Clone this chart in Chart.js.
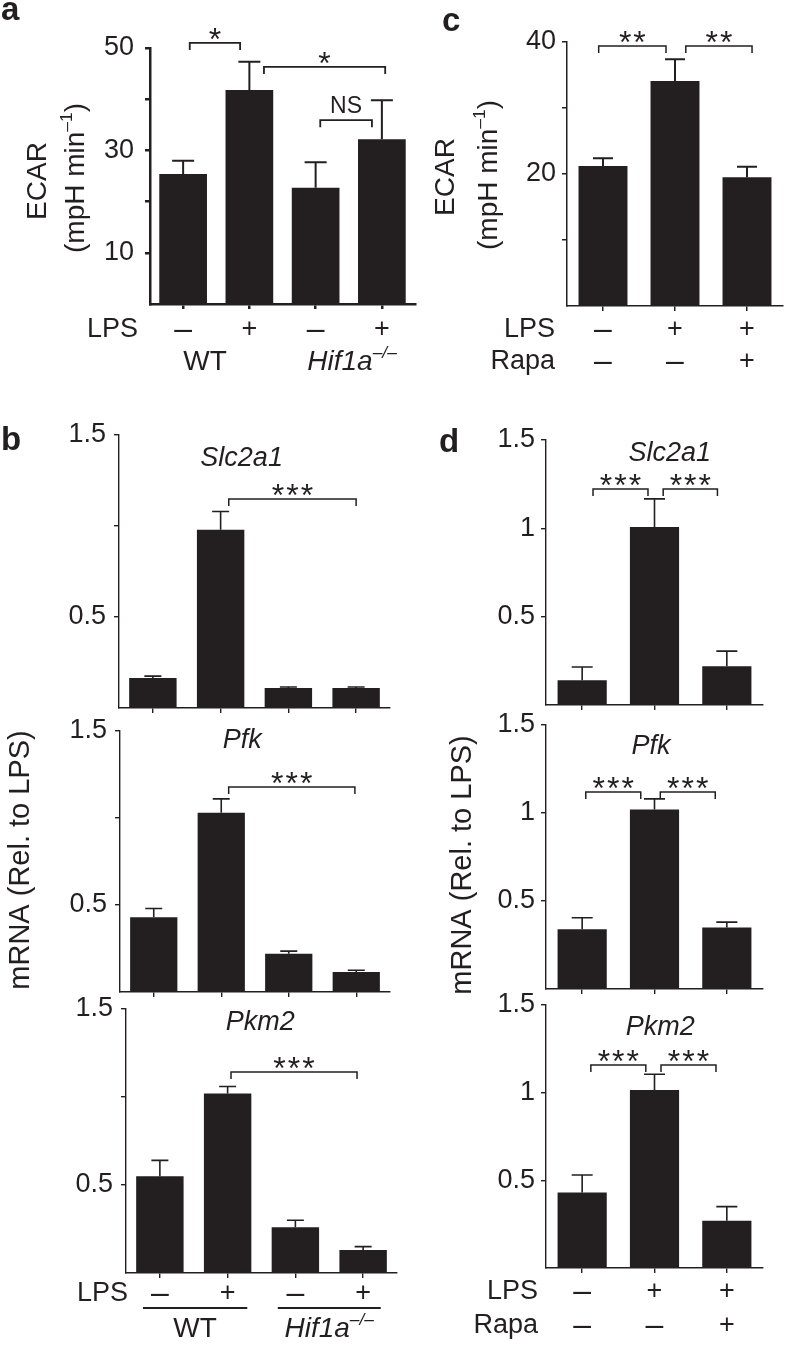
<!DOCTYPE html>
<html>
<head>
<meta charset="utf-8">
<script src="https://cdn.jsdelivr.net/npm/chart.js@4.4.0/dist/chart.umd.min.js"></script>
<style>
  html, body { margin: 0; padding: 0; background: #fff; }
  #wrap { position: relative; width: 786px; height: 1346px; overflow: hidden; background: #fff; }
  #wrap canvas { position: absolute; left: 0; top: 0; }
</style>
</head>
<body>
<div id="wrap"></div>
<script>
// --- data ---
// categories
const condAB = ['WT LPS-', 'WT LPS+', 'Hif1a LPS-', 'Hif1a LPS+'];
const condCD = ['ctrl', 'LPS', 'LPS+Rapa'];
const lpsAB = ['–', '+', '–', '+'];
const lpsCD = ['–', '+', '+'];
const rapaCD = ['–', '–', '+'];
const genes = ['Slc2a1', 'Pfk', 'Pkm2'];

// a: ECAR, WT vs Hif1a-/-
const ecarA = [25.4, 41.8, 22.7, 32.2];
const ecarAErr = [2.6, 5.5, 5.0, 7.6];
const ticksA = [10, 20, 30, 40, 50];
const tickLabelsA = ['10', '', '30', '', '50'];

// c: ECAR, LPS +/- rapamycin
const ecarC = [21.2, 34.1, 19.5];
const ecarCErr = [1.2, 3.3, 1.6];
const ticksC = [10, 20, 30, 40];
const tickLabelsC = ['', '20', '', '40'];

// b: mRNA relative to LPS
const slcB = [0.165, 0.98, 0.11, 0.11];
const slcBErr = [0.01, 0.10, 0.005, 0.005];
const pfkB = [0.43, 1.03, 0.22, 0.115];
const pfkBErr = [0.05, 0.08, 0.015, 0.01];
const pkmB = [0.55, 1.02, 0.26, 0.13];
const pkmBErr = [0.09, 0.04, 0.04, 0.02];
const ticksBD = [0.5, 1, 1.5];
const tickLabelsB = ['0.5', '', '1.5'];

// d: mRNA relative to LPS
const slcD = [0.14, 1.007, 0.22];
const slcDErr = [0.075, 0.16, 0.085];
const pfkD = [0.34, 1.02, 0.35];
const pfkDErr = [0.065, 0.06, 0.03];
const pkmD = [0.43, 1.015, 0.27];
const pkmDErr = [0.10, 0.09, 0.08];
const tickLabelsD = ['0.5', '1', '1.5'];

const INK = '#231f20';
const FONT = '"Liberation Sans", Arial, Helvetica, sans-serif';
const PAGE_W = 786, PAGE_H = 1346;
const wrap = document.getElementById('wrap');

function setFont(ctx, size, style) {
  ctx.font = (style || '') + ' ' + size + 'px ' + FONT;
}

// draw text made of plain parts and {sup: '...'} parts
function rich(ctx, parts, x, y, size, style, align) {
  const widths = parts.map(p => {
    const sup = typeof p !== 'string';
    setFont(ctx, sup ? size * 0.62 : size, style);
    return ctx.measureText(sup ? p.sup : p).width;
  });
  const total = widths.reduce((s, w) => s + w, 0);
  let cx = align === 'left' ? x : align === 'right' ? x - total : x - total / 2;
  ctx.textAlign = 'left';
  ctx.textBaseline = 'middle';
  parts.forEach((p, i) => {
    const sup = typeof p !== 'string';
    setFont(ctx, sup ? size * 0.62 : size, style);
    ctx.fillText(sup ? p.sup : p, cx, sup ? y - size * 0.32 : y);
    cx += widths[i];
  });
}

function vtext(ctx, parts, x, y, size) {
  ctx.save();
  ctx.translate(x, y);
  ctx.rotate(-Math.PI / 2);
  rich(ctx, parts, 0, 0, size, '', 'center');
  ctx.restore();
}

function letter(ctx, s, x, y) {
  setFont(ctx, 33, 'bold');
  ctx.textAlign = 'left';
  ctx.textBaseline = 'alphabetic';
  ctx.fillText(s, x, y);
}

// condition row: header on the left, a sign under each bar
function row(ctx, xs, head, signs, y, headRight) {
  rich(ctx, [head], headRight, y, 27, '', 'right');
  signs.forEach((s, i) => rich(ctx, [s], xs.getPixelForValue(i), y, s === '–' ? 32 : 27, '', 'center'));
}

function drawBrackets(chart, list, lw) {
  const ctx = chart.ctx, xs = chart.scales.x, ys = chart.scales.y;
  ctx.lineWidth = lw;
  list.forEach(([f, t, lvl, lab]) => {
    const x1 = xs.getPixelForValue(f), x2 = xs.getPixelForValue(t), yy = ys.getPixelForValue(lvl);
    ctx.beginPath();
    ctx.moveTo(x1, yy + 7); ctx.lineTo(x1, yy); ctx.lineTo(x2, yy); ctx.lineTo(x2, yy + 7);
    ctx.stroke();
    ctx.textAlign = 'center';
    ctx.textBaseline = 'alphabetic';
    if (lab === 'NS') {
      setFont(ctx, 23);
      ctx.fillText(lab, (x1 + x2) / 2, yy - 7);
    } else {
      setFont(ctx, 32);
      ctx.letterSpacing = '2px';
      ctx.fillText(lab, (x1 + x2) / 2 + 1, yy + 7);
      ctx.letterSpacing = '0px';
    }
  });
}

function annot(p) {
  return {
    id: 'annot',
    afterDatasetsDraw(chart) {
      const ctx = chart.ctx, ys = chart.scales.y;
      ctx.save();
      ctx.strokeStyle = INK;
      ctx.fillStyle = INK;
      // error bars (upper only)
      ctx.lineWidth = p.errW;
      chart.getDatasetMeta(0).data.forEach((bar, i) => {
        const top = ys.getPixelForValue(p.values[i] + p.errs[i]);
        ctx.beginPath();
        ctx.moveTo(bar.x, bar.y); ctx.lineTo(bar.x, top);
        ctx.moveTo(bar.x - p.cap, top); ctx.lineTo(bar.x + p.cap, top);
        ctx.stroke();
      });
      drawBrackets(chart, p.sig, p.sigW);
      if (p.draw) p.draw(chart, ctx, chart.scales.x);
      ctx.restore();
    }
  };
}

function build(p) {
  const cv = document.createElement('canvas');
  cv.width = PAGE_W; cv.height = PAGE_H;
  wrap.appendChild(cv);
  const YW = 80, XH = 8;
  new Chart(cv, {
    type: 'bar',
    data: {
      labels: p.labels,
      datasets: [{ data: p.values, backgroundColor: INK, borderWidth: 0, barPercentage: p.bar, categoryPercentage: 1 }]
    },
    options: {
      responsive: false,
      animation: false,
      devicePixelRatio: 1,
      layout: { padding: { left: p.box.l - YW, right: PAGE_W - p.box.r, top: p.box.t, bottom: PAGE_H - p.box.b - XH } },
      plugins: { legend: { display: false }, tooltip: { enabled: false } },
      scales: {
        x: {
          grid: { offset: false, drawOnChartArea: false, drawTicks: true, tickLength: 5, color: INK, lineWidth: p.axisW },
          border: { color: INK, width: p.axisW },
          ticks: { display: false },
          afterFit(s) { s.height = XH; }
        },
        y: {
          min: 0,
          max: p.max,
          afterBuildTicks(s) { s.ticks = p.ticks.map(v => ({ value: v })); },
          ticks: {
            callback: v => { const k = p.ticks.indexOf(v); return k < 0 ? '' : p.tickLabels[k]; },
            font: { family: FONT, size: 27 },
            color: INK,
            padding: p.tickPad
          },
          grid: { drawOnChartArea: false, drawTicks: true, tickLength: 5, color: INK, lineWidth: p.axisW },
          border: { color: INK, width: p.axisW },
          afterFit(s) { s.width = YW; }
        }
      }
    },
    plugins: [annot(p)]
  });
}

const ecarTitle = ['(mpH min', { sup: '–1' }, ')'];
const mrnaTitle = ['mRNA (Rel. to LPS)'];
const hifLabel = ['Hif1a', { sup: '–/–' }];

function geneTitle(ctx, xs, name, pos, y) {
  rich(ctx, [name], xs.getPixelForValue(pos), y, 27, 'italic', 'center');
}

const panels = [
  { // a
    labels: condAB, values: ecarA, errs: ecarAErr, max: 50, ticks: ticksA, tickLabels: tickLabelsA,
    box: { l: 150, r: 415, t: 48, b: 304 }, bar: 0.72, axisW: 2.5, errW: 2, cap: 11, tickPad: 11, sigW: 1.8,
    sig: [[0.10, 0.86, 51.0, '*'], [1.22, 3.05, 46.3, '*'], [2.07, 2.85, 35.9, 'NS']],
    draw(chart, ctx, xs) {
      letter(ctx, 'a', 1, 20);
      vtext(ctx, ['ECAR'], 38, 181, 28);
      vtext(ctx, ecarTitle, 76, 178, 28);
      row(ctx, xs, 'LPS', lpsAB, 330, 138);
      rich(ctx, ['WT'], xs.getPixelForValue(0.33), 362, 28, '', 'center');
      rich(ctx, hifLabel, xs.getPixelForValue(2.55), 362, 28, 'italic', 'center');
    }
  },
  { // c
    labels: condCD, values: ecarC, errs: ecarCErr, max: 40, ticks: ticksC, tickLabels: tickLabelsC,
    box: { l: 567, r: 783, t: 42, b: 306 }, bar: 0.68, axisW: 1.5, errW: 2, cap: 10, tickPad: 6, sigW: 1.5,
    sig: [[-0.06, 0.875, 39.4, '**'], [1.15, 2.07, 39.4, '**']],
    draw(chart, ctx, xs) {
      letter(ctx, 'c', 442, 31);
      vtext(ctx, ['ECAR'], 446, 177, 28);
      vtext(ctx, ecarTitle, 489, 175, 28);
      row(ctx, xs, 'LPS', lpsCD, 330, 555);
      row(ctx, xs, 'Rapa', rapaCD, 362, 555);
    }
  },
  { // b Slc2a1
    labels: condAB, values: slcB, errs: slcBErr, max: 1.5, ticks: ticksBD, tickLabels: tickLabelsB,
    box: { l: 119, r: 390, t: 435, b: 708 }, bar: 0.7, axisW: 1.4, errW: 1.6, cap: 8.5, tickPad: 8, sigW: 1.5,
    sig: [[1.12, 3.0, 1.148, '***']],
    draw(chart, ctx, xs) {
      letter(ctx, 'b', 1, 450);
      vtext(ctx, mrnaTitle, 21, 860, 29);
      geneTitle(ctx, xs, genes[0], 1.31, 458);
    }
  },
  { // b Pfk
    labels: condAB, values: pfkB, errs: pfkBErr, max: 1.5, ticks: ticksBD, tickLabels: tickLabelsB,
    box: { l: 120, r: 390, t: 731, b: 992 }, bar: 0.7, axisW: 1.4, errW: 1.6, cap: 8.5, tickPad: 8, sigW: 1.5,
    sig: [[1.11, 2.98, 1.178, '***']],
    draw(chart, ctx, xs) {
      geneTitle(ctx, xs, genes[1], 1.31, 740);
    }
  },
  { // b Pkm2
    labels: condAB, values: pkmB, errs: pkmBErr, max: 1.5, ticks: ticksBD, tickLabels: tickLabelsB,
    box: { l: 126, r: 397, t: 1009, b: 1273 }, bar: 0.7, axisW: 1.4, errW: 1.6, cap: 8.5, tickPad: 8, sigW: 1.5,
    sig: [[1.05, 2.91, 1.142, '***']],
    draw(chart, ctx, xs) {
      geneTitle(ctx, xs, genes[2], 1.48, 1022);
      row(ctx, xs, 'LPS', lpsAB, 1294, 128);
      ctx.lineWidth = 2;
      [[-0.25, 1.29], [1.74, 3.26]].forEach(([f, t]) => {
        ctx.beginPath();
        ctx.moveTo(xs.getPixelForValue(f), 1308);
        ctx.lineTo(xs.getPixelForValue(t), 1308);
        ctx.stroke();
      });
      rich(ctx, ['WT'], xs.getPixelForValue(0.52), 1329, 28, '', 'center');
      rich(ctx, hifLabel, xs.getPixelForValue(2.5), 1329, 28, 'italic', 'center');
    }
  },
  { // d Slc2a1
    labels: condCD, values: slcD, errs: slcDErr, max: 1.5, ticks: ticksBD, tickLabels: tickLabelsD,
    box: { l: 546, r: 763, t: 440, b: 705 }, bar: 0.68, axisW: 1.4, errW: 1.6, cap: 10.5, tickPad: 6, sigW: 1.5,
    sig: [[0.15, 0.91, 1.222, '***'], [1.12, 1.87, 1.222, '***']],
    draw(chart, ctx, xs) {
      letter(ctx, 'd', 439, 452);
      vtext(ctx, mrnaTitle, 463, 865, 29);
      geneTitle(ctx, xs, genes[0], 1.21, 453);
    }
  },
  { // d Pfk
    labels: condCD, values: pfkD, errs: pfkDErr, max: 1.5, ticks: ticksBD, tickLabels: tickLabelsD,
    box: { l: 546, r: 763, t: 725, b: 989 }, bar: 0.68, axisW: 1.4, errW: 1.6, cap: 10.5, tickPad: 6, sigW: 1.5,
    sig: [[0.05, 0.81, 1.119, '***'], [1.08, 1.84, 1.119, '***']],
    draw(chart, ctx, xs) {
      geneTitle(ctx, xs, genes[1], 0.95, 746);
    }
  },
  { // d Pkm2
    labels: condCD, values: pkmD, errs: pkmDErr, max: 1.5, ticks: ticksBD, tickLabels: tickLabelsD,
    box: { l: 546, r: 763, t: 1005, b: 1268 }, bar: 0.68, axisW: 1.4, errW: 1.6, cap: 10.5, tickPad: 6, sigW: 1.5,
    sig: [[0.12, 0.88, 1.158, '***'], [1.09, 1.85, 1.158, '***']],
    draw(chart, ctx, xs) {
      geneTitle(ctx, xs, genes[2], 1.08, 1027);
      row(ctx, xs, 'LPS', lpsCD, 1292, 538);
      row(ctx, xs, 'Rapa', rapaCD, 1326, 538);
    }
  }
];

panels.forEach(build);
</script>
</body>
</html>
